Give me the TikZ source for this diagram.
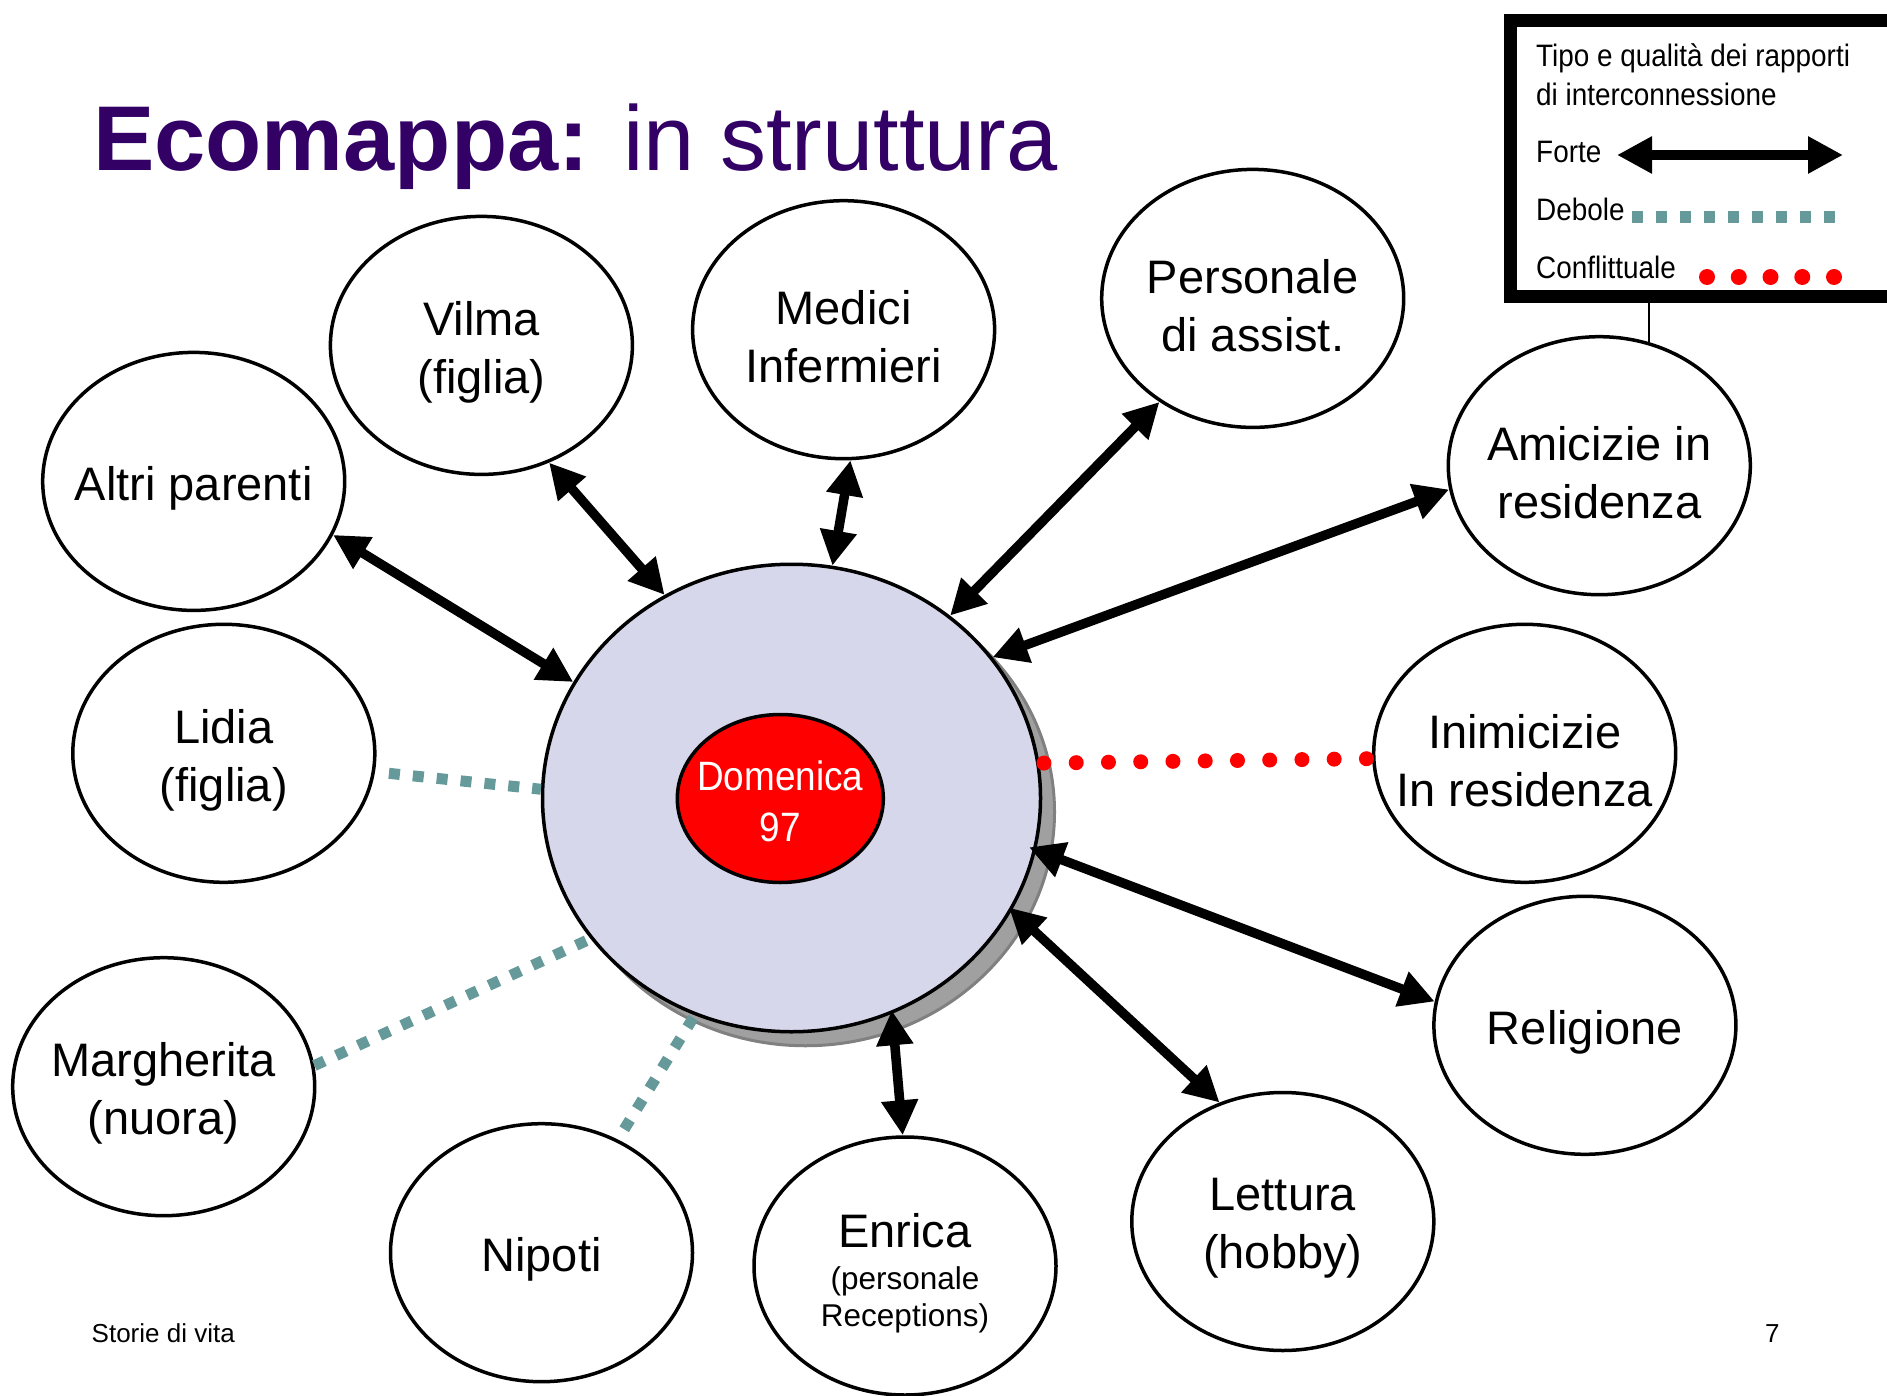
\documentclass[tikz,border=0pt]{standalone}
\usepackage{fontspec}
\setmainfont{Liberation Sans}
\newfontfamily\narrowfont[FakeStretch=0.9]{Liberation Sans}
\usetikzlibrary{shapes.geometric,arrows.meta,calc}
\definecolor{titlepurple}{RGB}{51,0,102}
\definecolor{weakteal}{RGB}{102,153,153}
\definecolor{coreblue}{RGB}{214,215,235}
\definecolor{shadowgray}{RGB}{160,160,160}
\definecolor{shadowedge}{RGB}{128,128,128}
\begin{document}
\begin{tikzpicture}[x=1pt,y=-1pt,
  el/.style={ellipse, draw, line width=3.5pt, fill=white, minimum width=302pt, minimum height=258pt, inner sep=0pt},
  lbl/.style={align=center, inner sep=0pt, yshift=-7pt, font=\fontsize{47}{58}\selectfont},
  strong/.style={line width=9.5pt, {Triangle[length=35pt,width=35pt]}-{Triangle[length=35pt,width=35pt]}},
  weak/.style={line width=11pt, weakteal, dash pattern=on 11pt off 13pt},
  conflict/.style={line width=15pt, red, line cap=round, dash pattern=on 0pt off 32.25pt},
  legtext/.style={anchor=base west, inner sep=0pt, font=\narrowfont\fontsize{31}{37}\selectfont},
  plain/.style={anchor=base west, inner sep=0pt, font=\fontsize{26}{31}\selectfont}
]
\useasboundingbox (0,0) rectangle (1887,1396);
\fill[white] (0,0) rectangle (1887,1396);
\clip (0,0) rectangle (1887,1396);

% title
\node[anchor=base west, inner sep=0pt, text=titlepurple, font=\fontsize{92}{110}\selectfont] (title) at (93,171) {\textbf{Ecomappa:} in struttura};

% legend
\node[draw, line width=13pt, rectangle, anchor=north west, outer sep=0pt, minimum width=450pt, minimum height=276pt, inner sep=0pt] (legend) at (1510.5,20.5) {};
\node[legtext] (lt1) at (1536,66.7) {Tipo e qualità dei rapporti};
\node[legtext] (lt2) at (1536,106) {di interconnessione};
\node[legtext] (lt3) at (1536,163) {Forte};
\node[legtext] (lt4) at (1536,220.7) {Debole};
\node[legtext] (lt5) at (1536,278.3) {Conflittuale};
\draw[line width=10pt, {Triangle[length=35pt,width=35pt]}-{Triangle[length=35pt,width=35pt]}] (1617,155) -- (1843,155);
\draw[weakteal, line width=11.7pt, dash pattern=on 11.7pt off 12.3pt] (1631.7,216.7) -- (1835,216.7);
\foreach \xx in {1707,1738.75,1770.5,1802.25,1834} \fill[red] (\xx,277) circle (8pt);

% central person
\node[ellipse, fill=shadowgray, draw=shadowedge, line width=3pt, minimum width=498pt, minimum height=467.5pt, inner sep=0pt] (mainshadow) at (805.5,812) {};
\node[ellipse, draw, line width=3.5pt, fill=coreblue, minimum width=498pt, minimum height=467.5pt, inner sep=0pt] (main) at (791.5,798) {};
\node[ellipse, draw, line width=3.5pt, fill=red, minimum width=206pt, minimum height=168pt, inner sep=0pt,
  label={[align=center, inner sep=0pt, yshift=-3pt, text=white, font=\narrowfont\fontsize{41}{51}\selectfont]center:{Domenica\\97}}] (core) at (780.3,798.5) {};

% surrounding nodes
\node[el, label={[lbl]center:{Altri parenti}}] (altri) at (193.7,481.4) {};
\node[el, label={[lbl]center:{Vilma\\(figlia)}}] (vilma) at (481.4,345.4) {};
\node[el, label={[lbl]center:{Medici\\Infermieri}}] (medici) at (843.6,329.7) {};
\node[el, label={[lbl]center:{Personale\\di assist.}}] (pers) at (1252.7,298.4) {};
\node[el, label={[lbl]center:{Amicizie in\\residenza}}] (amic) at (1599.3,465.7) {};
\node[el, label={[lbl]center:{Lidia\\(figlia)}}] (lidia) at (223.8,753.3) {};
\node[el, label={[lbl]center:{Inimicizie\\In residenza}}] (inim) at (1524.7,753.3) {};
\node[el, label={[lbl]center:{Margherita\\(nuora)}}] (marg) at (163.7,1086.7) {};
\node[el, label={[lbl]center:{Religione}}] (relig) at (1584.9,1025.3) {};
\node[el, label={[lbl]center:{Nipoti}}] (nipoti) at (541.5,1252.7) {};
\node[el, label={[lbl]center:{Enrica\\[-16pt]{\fontsize{31.5}{37}\selectfont(personale}\\[-21pt]{\fontsize{31.5}{37}\selectfont Receptions)}}}] (enrica) at (905,1266) {};
\node[el, label={[lbl]center:{Lettura\\(hobby)}}] (lettura) at (1282.8,1221.5) {};

% legend leader line
\draw[line width=2pt] (amic.68.3) -- (amic.68.3 |- legend.south);

% strong links
\draw[strong] (altri.-21.4) -- (main.152.2);
\draw[strong] (vilma.-60.9) -- (main.122.1);
\draw[strong] (medici.-87.4) -- (main.80.5);
\draw[strong] (pers.-132.5) -- (main.49.8);
\draw[strong] (amic.189.5) -- (main.35.1);
\draw[strong] (relig.171) -- ($(main.-12.2)!-7.5pt!(relig.171)$);
\draw[strong] (lettura.118.4) -- ($(main.-27.2)!-4pt!(lettura.118.4)$);
\draw[strong] (enrica.91.1) -- ($(main.-65.8)!-3.5pt!(enrica.91.1)$);

% weak links
\draw[weak, shorten <=14pt] (lidia.-7) -- (main.178.7);
\draw[weak] (marg.8.6) -- (main.215.3);
\draw[weak, shorten <=12pt] (nipoti.56.5) -- (main.-114.7);

% conflict link
\draw[conflict, shorten <=4.5pt] (main.8.75) -- (inim.182.8);

% footer
\node[plain] (foot) at (91.5,1342) {Storie di vita};
\node[plain] (page) at (1765,1342) {7};
\end{tikzpicture}
\end{document}
